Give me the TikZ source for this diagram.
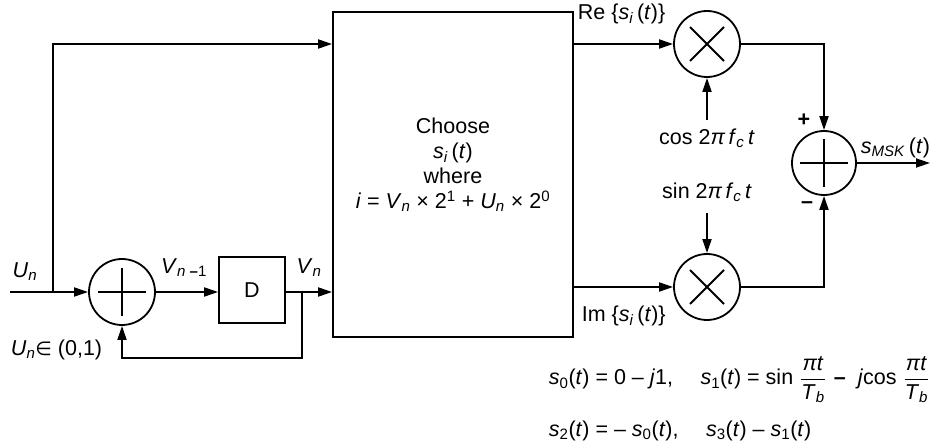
\documentclass[tikz,border=0pt]{standalone}
\usepackage{amsmath}
\usepackage{fontspec}
\setmainfont{Liberation Sans}
\newfontfamily\dejavu{DejaVu Sans}
\usetikzlibrary{arrows.meta}
\newcommand{\vs}[2]{\textit{#1}\textsubscript{#2}}
\newcommand{\fr}[2]{$\displaystyle\genfrac{}{}{1.2pt}{0}{\mbox{#1}}{\mbox{#2}}$}
\begin{document}
\begin{tikzpicture}[x=1pt,y=-1pt,line width=1.8pt,
  >={Triangle[length=14pt,width=9pt]},
  font=\fontsize{21.5}{25}\selectfont,
  opc/.style={circle,draw,minimum size=66pt,inner sep=0pt},
  plusop/.style={opc,path picture={
    \draw[line width=1.8pt] ([xshift=-24pt]path picture bounding box.center) -- ([xshift=24pt]path picture bounding box.center);
    \draw[line width=1.8pt] ([yshift=-24pt]path picture bounding box.center) -- ([yshift=24pt]path picture bounding box.center);}},
  mulop/.style={opc,path picture={
    \draw[line width=1.8pt] ([shift={(-17pt,-17pt)}]path picture bounding box.center) -- ([shift={(17pt,17pt)}]path picture bounding box.center);
    \draw[line width=1.8pt] ([shift={(-17pt,17pt)}]path picture bounding box.center) -- ([shift={(17pt,-17pt)}]path picture bounding box.center);}},
  blk/.style={draw,rectangle,inner sep=0pt},
  lbl/.style={inner sep=0pt}]
\useasboundingbox (0,0) rectangle (937,443);
% nodes
\node[plusop] (a1) at (122,292) {};
\node[blk,minimum width=66pt,minimum height=66pt] (D) at (252,290) {D};
\node[blk,minimum width=240pt,minimum height=325pt] (big) at (453,174.5) {};
\node[lbl,align=center,font=\fontsize{21.5}{25}\selectfont] (btxt) at (453,165)
  {Choose\\ \vs{s}{\textit{i}}\,(\textit{t})\\ where\\ \textit{i} = \vs{V}{\textit{n}} × 2\textsuperscript{1} + \vs{U}{\textit{n}} × 2\textsuperscript{0}};
\node[mulop] (m1) at (707,44) {};
\node[mulop] (m2) at (707,287) {};
\node[plusop,minimum size=64pt] (s) at (824,163) {};
% coordinates
\coordinate (in) at (10,292);
\coordinate (br) at (53,292);
\coordinate (fb) at (302,292);
\coordinate (fbb) at (302,358);
\coordinate (out) at (930,163);
\coordinate (cosa) at (707,120);
\coordinate (sina) at (707,213);
% connectors
\draw[->] (in) -- (a1.west);
\draw[->] (br) |- (big.west |- m1);
\draw[->] (a1.east) -- (D.west |- a1.east);
\draw[->] (D.east |- a1.east) -- (big.west |- a1.east);
\draw[->] (fb) -- (fbb) -| (a1.south);
\draw[->] (big.east |- m1) -- (m1.west);
\draw[->] (big.east |- m2) -- (m2.west);
\draw[->] (m1.east) -| (s.north);
\draw[->] (m2.east) -| (s.south);
\draw[->] (s.east) -- (out);
\draw[->] (cosa) -- (m1.south);
\draw[->] (sina) -- (m2.north);
% labels
\node[lbl] (lun) at (25,272) {\vs{U}{\textit{n}}};
\node[lbl] (lvn1) at (184,268) {\vs{V}{\textit{n} \textbf{–}1}};
\node[lbl] (lvn) at (309,268) {\vs{V}{\textit{n}}};
\node[lbl,anchor=west] (lund) at (10,350) {\vs{U}{\textit{n}}{\dejavu\fontsize{19}{20}\selectfont ∈} (0,1)};
\node[lbl,anchor=west] (lre) at (577,14) {Re \{\vs{s}{\textit{i}}\,(\textit{t})\}};
\node[lbl,anchor=west] (lim) at (581,316) {Im \{\vs{s}{\textit{i}}\,(\textit{t})\}};
\node[lbl] (lcos) at (707,138) {cos 2\textit{π\,f}\textsubscript{\textit{c}}\,\textit{t}};
\node[lbl] (lsin) at (707,192) {sin 2\textit{π\,f}\textsubscript{\textit{c}}\,\textit{t}};
\node[lbl] (lp) at (804,120) {\textbf{+}};
\node[lbl] (lm) at (807,205) {\textbf{–}};
\node[lbl,anchor=west] (lout) at (860,148) {\vs{s}{\textit{MSK}}\,(\textit{t})};
\node[lbl,anchor=west] (eq1) at (548,380)
  {\vs{s}{0}(\textit{t}) = 0 – \textit{j}1,\quad\ \vs{s}{1}(\textit{t}) = sin\hspace{7pt}\fr{\textit{πt}}{\vs{T}{\textit{b}}}\hspace{8pt}\textbf{–}\hspace{12pt}\textit{j}cos\hspace{7pt}\fr{\textit{πt}}{\vs{T}{\textit{b}}}};
\node[lbl,anchor=west] (eq2) at (548,431)
  {\vs{s}{2}(\textit{t}) = – \vs{s}{0}(\textit{t}),\quad\ \vs{s}{3}(\textit{t}) – \vs{s}{1}(\textit{t})};
\end{tikzpicture}
\end{document}
